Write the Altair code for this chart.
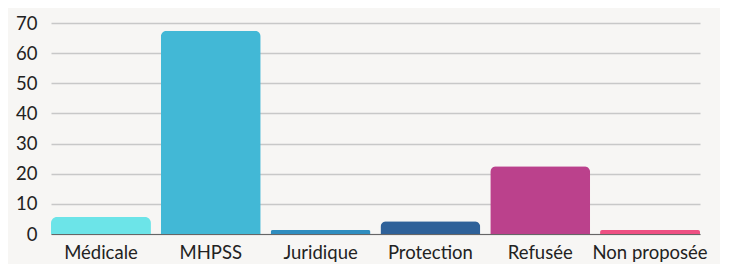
import altair as alt
import pandas as pd

categories = ["Médicale", "MHPSS", "Juridique", "Protection", "Refusée", "Non proposée"]
values = [5.6, 67.4, 1.3, 4.2, 22.5, 1.3]
colors = ["#6ce4e8", "#42b8d6", "#2f8dbf", "#2e6199", "#bb418c", "#ee5083"]

df = pd.DataFrame({"cat": categories, "val": values})

chart = alt.Chart(df).mark_bar(
    cornerRadiusTopLeft=6, cornerRadiusTopRight=6
).encode(
    x=alt.X("cat:N", sort=categories,
            scale=alt.Scale(paddingInner=0.09, paddingOuter=0),
            axis=alt.Axis(title=None, labelAngle=0, labelFontSize=18.5, labelFont="Lato",
                          labelColor="#222222", ticks=False, domainColor="#666666",
                          domainWidth=1, labelPadding=9)),
    y=alt.Y("val:Q", scale=alt.Scale(domain=[0, 70], nice=False),
            axis=alt.Axis(title=None, values=[0, 10, 20, 30, 40, 50, 60, 70],
                          labelFontSize=18.5, labelFont="Lato", labelColor="#222222",
                          ticks=False, domain=False, gridColor="#c8c8c8", gridWidth=1.5,
                          labelPadding=14)),
    color=alt.Color("cat:N", sort=categories,
                    scale=alt.Scale(domain=categories, range=colors), legend=None),
).properties(
    width=649, height=211,
    autosize=alt.AutoSizeParams(type="none"),
    padding={"left": 43, "top": 15, "right": 20, "bottom": 40},
    background="#f7f6f4",
).configure_view(stroke=None)

chart.save("out.html", embed_options={"renderer": "svg", "actions": False})
